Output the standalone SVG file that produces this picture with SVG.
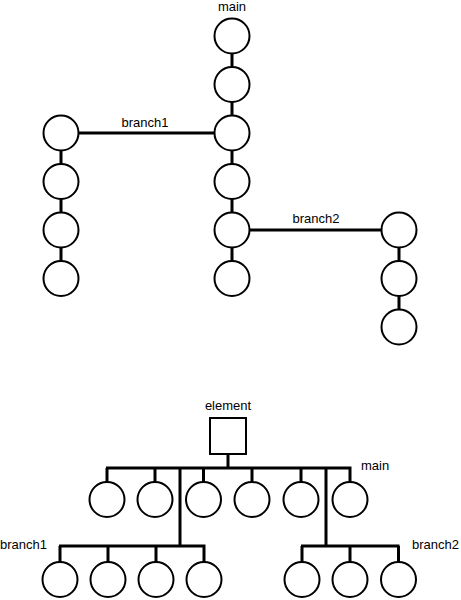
<svg xmlns="http://www.w3.org/2000/svg" width="461" height="600" viewBox="0 0 461 600">
<style>
.n{fill:#fff;stroke:#000;stroke-width:2}
.c{stroke:#000;stroke-width:3;fill:none}
text{font-family:"Liberation Sans",Arial,sans-serif;font-size:13px;fill:#000}
</style>
<rect width="461" height="600" fill="#fff"/>
<g id="connectors">
<path class="c" d="M232 36V278.5M61 133V278.5M399 230V327M61 133H232M232 230H399"/>
<path class="c" d="M228 454V468M106 468H351.5M107 468V482M155 468V482M203.5 468V482M252 468V482M301 468V482M350 468V482M180 468V546M59 546H205.5M60 546V562M108 546V562M156 546V562M204 546V562M326 468V546M301 546H399.5M302 546V562M350 546V562M398.5 546V562"/>
</g>
<g id="labels">
<text x="232" y="10.5" text-anchor="middle">main</text>
<text x="145" y="126.5" text-anchor="middle">branch1</text>
<text x="316" y="223" text-anchor="middle">branch2</text>
<text x="228" y="410" text-anchor="middle">element</text>
<text x="361" y="470">main</text>
<text x="0" y="549">branch1</text>
<text x="412" y="549">branch2</text>
</g>
<g id="main-1"><circle class="n" cx="232" cy="36" r="17.5"/></g>
<g id="main-2"><circle class="n" cx="232" cy="84.5" r="17.5"/></g>
<g id="main-3"><circle class="n" cx="232" cy="133" r="17.5"/></g>
<g id="main-4"><circle class="n" cx="232" cy="181.5" r="17.5"/></g>
<g id="main-5"><circle class="n" cx="232" cy="230" r="17.5"/></g>
<g id="main-6"><circle class="n" cx="232" cy="278.5" r="17.5"/></g>
<g id="b1-1"><circle class="n" cx="61" cy="133" r="17.5"/></g>
<g id="b1-2"><circle class="n" cx="61" cy="181.5" r="17.5"/></g>
<g id="b1-3"><circle class="n" cx="61" cy="230" r="17.5"/></g>
<g id="b1-4"><circle class="n" cx="61" cy="278.5" r="17.5"/></g>
<g id="b2-1"><circle class="n" cx="399" cy="230" r="17.5"/></g>
<g id="b2-2"><circle class="n" cx="399" cy="278.5" r="17.5"/></g>
<g id="b2-3"><circle class="n" cx="399" cy="327" r="17.5"/></g>
<g id="element"><rect class="n" x="210" y="418" width="36" height="36"/></g>
<g id="m1"><circle class="n" cx="107" cy="499.5" r="17.5"/></g>
<g id="m2"><circle class="n" cx="155" cy="499.5" r="17.5"/></g>
<g id="m3"><circle class="n" cx="203.5" cy="499.5" r="17.5"/></g>
<g id="m4"><circle class="n" cx="252" cy="499.5" r="17.5"/></g>
<g id="m5"><circle class="n" cx="301" cy="499.5" r="17.5"/></g>
<g id="m6"><circle class="n" cx="350" cy="499.5" r="17.5"/></g>
<g id="c1"><circle class="n" cx="60" cy="579.5" r="17.5"/></g>
<g id="c2"><circle class="n" cx="108" cy="579.5" r="17.5"/></g>
<g id="c3"><circle class="n" cx="156" cy="579.5" r="17.5"/></g>
<g id="c4"><circle class="n" cx="204" cy="579.5" r="17.5"/></g>
<g id="d1"><circle class="n" cx="302" cy="579.5" r="17.5"/></g>
<g id="d2"><circle class="n" cx="350" cy="579.5" r="17.5"/></g>
<g id="d3"><circle class="n" cx="398.5" cy="579.5" r="17.5"/></g>
</svg>
